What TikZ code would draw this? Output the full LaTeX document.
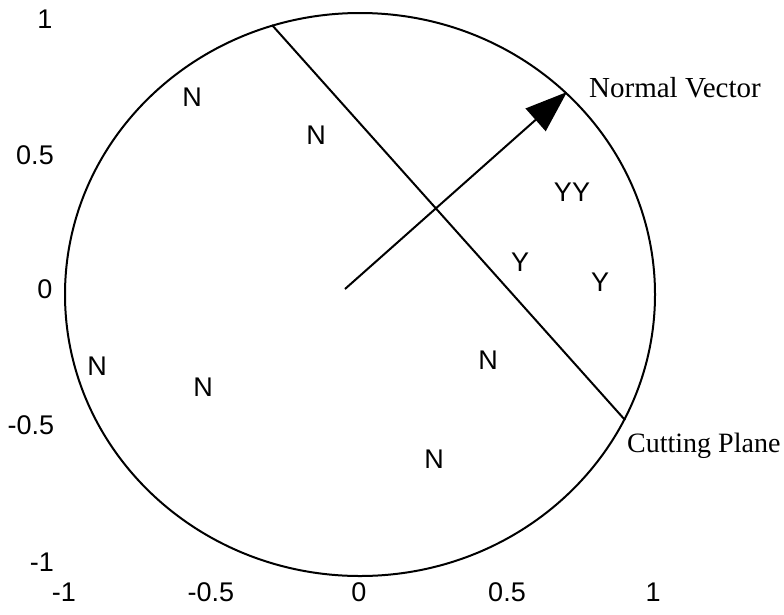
\documentclass[tikz,border=0pt]{standalone}
\usepackage{fontspec}
\setmainfont{Liberation Serif}
\newfontfamily\arialf{Liberation Sans}
\usetikzlibrary{arrows.meta}
\tikzset{
  lbl/.style={font=\arialf\fontsize{27}{30}\selectfont, inner sep=0pt},
  cls/.style={font=\arialf\fontsize{27}{30}\selectfont, inner sep=0pt},
  annot/.style={font=\fontsize{28}{32}\selectfont, inner sep=0pt, anchor=base west},
  thin line/.style={line width=2pt},
}
\begin{document}
\begin{tikzpicture}[x=1pt,y=-1pt]
\useasboundingbox (0,0) rectangle (784,614);
% circle
\draw[thin line] (360,294.5) ellipse [x radius=295, y radius=281.5];
% axis labels
\node[lbl] (y1) at (45,19) {1};
\node[lbl] (y05) at (35,155) {0.5};
\node[lbl] (y0) at (45,289) {0};
\node[lbl] (ym05) at (31,425) {-0.5};
\node[lbl] (ym1) at (42,562) {-1};
\node[lbl] (xm1) at (64,592) {-1};
\node[lbl] (xm05) at (211,592) {-0.5};
\node[lbl] (x0) at (359,592) {0};
\node[lbl] (x05) at (507,592) {0.5};
\node[lbl] (x1) at (653,592) {1};
% cutting plane and normal vector
\coordinate (cpa) at (272,25);
\coordinate (cpb) at (625,420);
\coordinate (o) at (345,289);
\coordinate (nv) at (567,92);
\draw[thin line] (cpa) -- (cpb);
\draw[thin line, -{Triangle[length=42pt,width=30pt]}] (o) -- (nv);
% class labels
\node[cls] (n1) at (192,97) {N};
\node[cls] (n2) at (316,135) {N};
\node[cls] (yy) at (572,192) {YY};
\node[cls] (ya) at (520,262) {Y};
\node[cls] (yb) at (600,282) {Y};
\node[cls] (n3) at (97,366) {N};
\node[cls] (n4) at (203,387) {N};
\node[cls] (n5) at (488,360) {N};
\node[cls] (n6) at (434,459) {N};
% annotations
\node[annot, font=\fontsize{29}{33}\selectfont] (nvl) at (589,97) {Normal Vector};
\node[annot] (cpl) at (627,452) {Cutting Plane};
\end{tikzpicture}
\end{document}
